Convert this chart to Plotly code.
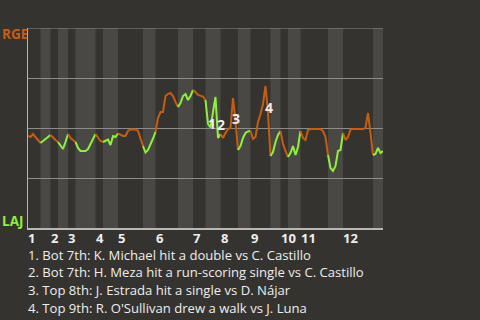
import plotly.graph_objects as go

# ---------------- data ----------------
away_team = "RGE"
home_team = "LAJ"
inning_labels = ["1", "2", "3", "4", "5", "6", "7", "8", "9", "10", "11", "12"]
start_wp = 0.46  # away (RGE) win probability before first pitch
# RGE win probability after each play, grouped by half inning (Top 1, Bot 1, ...)
half_wp = [
    [0.455, 0.47, 0.455, 0.44, 0.425],                                    # T1
    [0.435, 0.445, 0.455, 0.465],                                         # B1
    [0.45, 0.44, 0.43],                                                   # T2
    [0.415, 0.395, 0.43, 0.47],                                           # B2
    [0.45, 0.44, 0.43],                                                   # T3
    [0.40, 0.385, 0.385, 0.385, 0.395, 0.42, 0.4475, 0.47],               # B3
    [0.45, 0.435, 0.43],                                                  # T4
    [0.435, 0.4425, 0.415, 0.46, 0.455, 0.4725],                          # B4
    [0.465, 0.46, 0.46, 0.485, 0.4925, 0.4925, 0.4925, 0.485, 0.45, 0.41],  # T5
    [0.3775, 0.39, 0.415, 0.4475, 0.48],                                  # B5
    [0.55, 0.58, 0.58, 0.66, 0.67, 0.675, 0.66, 0.63, 0.605],             # T6
    [0.625, 0.66, 0.67, 0.64, 0.66, 0.69],                                # B6
    [0.68, 0.665, 0.66, 0.6575, 0.64],                                    # T7
    [0.52, 0.5025, 0.59, 0.655, 0.45, 0.47],                              # B7
    [0.45, 0.475, 0.495, 0.5, 0.65, 0.535, 0.39],                         # T8
    [0.41, 0.45, 0.475, 0.4825, 0.485],                                   # B8
    [0.445, 0.455, 0.53, 0.57, 0.62, 0.71, 0.575, 0.36],                  # T9
    [0.38, 0.43, 0.465, 0.485],                                           # B9
    [0.42, 0.385, 0.355],                                                 # T10
    [0.375, 0.41, 0.365, 0.405, 0.485],                                   # B10
    [0.45, 0.44, 0.49, 0.495, 0.495, 0.495, 0.495, 0.495, 0.485, 0.455, 0.365],  # T11
    [0.30, 0.285, 0.31, 0.385, 0.39, 0.475],                              # B11
    [0.44, 0.455, 0.4925, 0.495, 0.495, 0.495, 0.495, 0.495, 0.5, 0.575, 0.475, 0.365],  # T12
    [0.37, 0.40, 0.375, 0.385],                                           # B12
]
key_play_index = [72, 76, 82, 95]
key_play_text = [
    "1. Bot 7th: K. Michael hit a double vs C. Castillo",
    "2. Bot 7th: H. Meza hit a run-scoring single vs C. Castillo",
    "3. Top 8th: J. Estrada hit a single vs D. Nájar",
    "4. Top 9th: R. O'Sullivan drew a walk vs J. Luna",
]

# ---------------- styles ----------------
BG = "#353330"
BAND = "#4a4845"
GRID = "#8e8c89"
AXIS = "#b8b6b3"
AWAY_C = "#c55d12"
HOME_C = "#8ef03c"
TXT = "#eeeeee"
FONT = "Open Sans"
label_offsets = [(4, 1), (2.5, 14), (3, -20), (3.5, -21)]  # px (dx, dy up)

# build x positions
all_x = [0]
all_y = [start_wp]
half_starts = []
idx = 0
for h in half_wp:
    half_starts.append(idx)
    for v in h:
        idx += 1
        all_x.append(idx)
        all_y.append(v)
total = idx

fig = go.Figure()
shapes = []
for i, h in enumerate(half_wp):
    s = half_starts[i]
    e = s + len(h)
    if i % 2 == 1:
        shapes.append(dict(type="rect", xref="x", yref="y domain", x0=s, x1=e, y0=0, y1=1,
                           fillcolor=BAND, line_width=0, layer="below"))
    xs = all_x[s:e + 1]
    ys = all_y[s:e + 1]
    fig.add_trace(go.Scatter(x=xs, y=ys, mode="lines",
                             line=dict(color=AWAY_C if i % 2 == 0 else HOME_C, width=2),
                             hoverinfo="skip", showlegend=False))
# top gridline at 100%
shapes.append(dict(type="line", xref="x domain", yref="y", x0=0, x1=1, y0=1, y1=1,
                   line=dict(color=GRID, width=1), layer="below"))

ann = []
# team labels
ann.append(dict(text=f"<b>{away_team}</b>", xref="paper", yref="paper", x=0, y=1,
                xanchor="left", yanchor="middle", xshift=-27, yshift=-6, showarrow=False,
                borderpad=0, font=dict(family=FONT, size=13.5, color=AWAY_C)))
ann.append(dict(text=f"<b>{home_team}</b>", xref="paper", yref="paper", x=0, y=0,
                xanchor="left", yanchor="middle", xshift=-27, yshift=7, showarrow=False,
                borderpad=0, font=dict(family=FONT, size=13.5, color=HOME_C)))
# inning labels
for k, lab in enumerate(inning_labels):
    ann.append(dict(text=f"<b>{lab}</b>", xref="x", yref="paper", x=half_starts[2 * k], y=0,
                    xanchor="left", yanchor="middle", xshift=-1, yshift=-9.5, showarrow=False,
                    borderpad=0, font=dict(family=FONT, size=13, color=TXT)))
# key play markers
for n, (pi, (dx, dy)) in enumerate(zip(key_play_index, label_offsets)):
    ann.append(dict(text=f"<b>{n + 1}</b>", xref="x", yref="y", x=all_x[pi], y=all_y[pi],
                    xanchor="center", yanchor="middle", xshift=dx, yshift=dy, showarrow=False,
                    borderpad=0, font=dict(family=FONT, size=14, color=TXT)))
# footnotes
for n, t in enumerate(key_play_text):
    ann.append(dict(text=t, xref="paper", yref="paper", x=0, y=0, xanchor="left",
                    yanchor="middle", xshift=-1, yshift=-26.5 - 17.8 * n, showarrow=False,
                    borderpad=0, font=dict(family=FONT, size=13.1, color=TXT)))

fig.update_layout(
    width=480, height=320,
    margin=dict(l=28, r=97, t=28, b=92),
    paper_bgcolor=BG, plot_bgcolor=BG,
    shapes=shapes, annotations=ann,
    xaxis=dict(range=[0, total], showgrid=False, zeroline=False, showticklabels=False,
               showline=True, linecolor=AXIS, linewidth=2, ticks=""),
    yaxis=dict(range=[0, 1], dtick=0.25, showgrid=True, gridcolor=GRID, gridwidth=1,
               zeroline=False, showticklabels=False, showline=True, linecolor=AXIS,
               linewidth=1, ticks=""),
    showlegend=False,
)

fig.write_html("out.html")
